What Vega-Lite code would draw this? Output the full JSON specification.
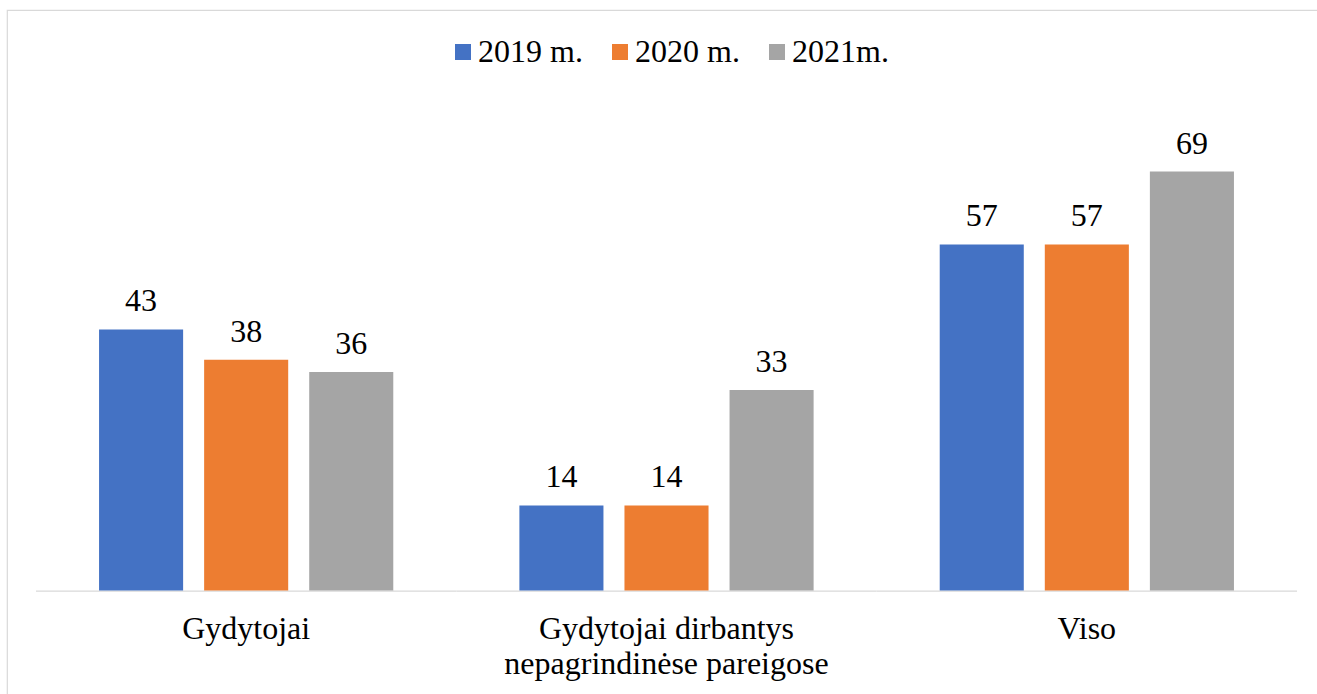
{
  "$schema": "https://vega.github.io/schema/vega-lite/v6.json",
  "autosize": "none",
  "padding": {"left": 7, "top": 10, "right": 0, "bottom": 0},
  "width": 1330,
  "height": 700,
  "background": "white",
  "config": {
    "view": {"stroke": "#d9d9d9", "strokeWidth": 1.2},
    "font": "Liberation Serif"
  },
  "data": {
    "values": [
      {"category": "Gydytojai", "year": "2019 m.", "value": 43},
      {"category": "Gydytojai", "year": "2020 m.", "value": 38},
      {"category": "Gydytojai", "year": "2021m.", "value": 36},
      {"category": "Gydytojai dirbantys nepagrindinėse pareigose", "year": "2019 m.", "value": 14},
      {"category": "Gydytojai dirbantys nepagrindinėse pareigose", "year": "2020 m.", "value": 14},
      {"category": "Gydytojai dirbantys nepagrindinėse pareigose", "year": "2021m.", "value": 33},
      {"category": "Viso", "year": "2019 m.", "value": 57},
      {"category": "Viso", "year": "2020 m.", "value": 57},
      {"category": "Viso", "year": "2021m.", "value": 69}
    ]
  },
  "encoding": {
    "x": {
      "field": "category",
      "type": "nominal",
      "sort": null,
      "scale": {"paddingInner": 0, "paddingOuter": 0.08208, "align": 0.4203},
      "axis": {
        "title": null,
        "domain": false,
        "ticks": false,
        "grid": false,
        "offset": -119.5,
        "labelAngle": 0,
        "labelFont": "Liberation Serif",
        "labelFontSize": 32,
        "labelColor": "#000000",
        "labelBaseline": "alphabetic",
        "labelPadding": 48,
        "labelLineHeight": 35,
        "labelLimit": 0,
        "labelExpr": "datum.label == 'Gydytojai dirbantys nepagrindinėse pareigose' ? ['Gydytojai dirbantys', 'nepagrindinėse pareigose'] : datum.label"
      }
    },
    "y": {
      "field": "value",
      "type": "quantitative",
      "scale": {"domain": [-19.68, 95.6], "nice": false, "zero": false},
      "axis": null
    }
  },
  "layer": [
    {
      "transform": [{"filter": "datum.year == '2019 m.'"}],
      "mark": {"type": "bar", "color": "#d9d9d9"},
      "encoding": {
        "y": {"datum": 0, "type": "quantitative"},
        "y2": {"datum": -0.2}
      }
    },
    {
      "mark": {"type": "bar"},
      "encoding": {
        "xOffset": {
          "field": "year",
          "type": "nominal",
          "scale": {"paddingInner": 0.2, "paddingOuter": 0.6}
        },
        "y2": {"datum": 0},
        "color": {
          "field": "year",
          "type": "nominal",
          "scale": {
            "domain": ["2019 m.", "2020 m.", "2021m."],
            "range": ["#4472C4", "#ED7D31", "#A5A5A5"]
          },
          "legend": {
            "title": null,
            "orient": "none",
            "legendX": 440,
            "legendY": 26,
            "direction": "horizontal",
            "padding": 0,
            "symbolType": "square",
            "symbolSize": 256,
            "symbolStrokeWidth": 0,
            "labelFont": "Liberation Serif",
            "labelFontSize": 32,
            "labelColor": "#000000",
            "labelOffset": -1,
            "columnPadding": 21,
            "labelLimit": 0
          }
        }
      }
    },
    {
      "mark": {
        "type": "text",
        "baseline": "alphabetic",
        "dy": -18,
        "font": "Liberation Serif",
        "fontSize": 32,
        "color": "#000000"
      },
      "encoding": {
        "xOffset": {"field": "year", "type": "nominal"},
        "text": {"field": "value", "type": "quantitative"}
      }
    }
  ]
}
